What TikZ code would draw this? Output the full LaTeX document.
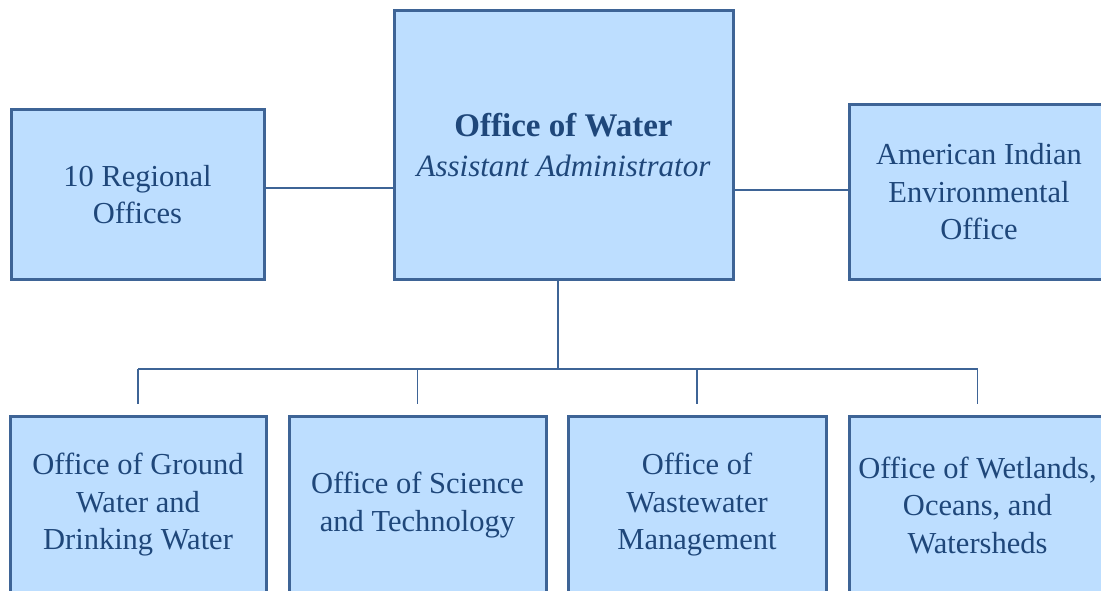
\documentclass[tikz,border=0pt]{standalone}
\usepackage{fontspec}
\setmainfont{Liberation Serif}
\definecolor{boxfill}{RGB}{189,222,255}
\definecolor{boxline}{RGB}{62,100,150}
\definecolor{ink}{RGB}{31,71,122}

\begin{document}
\begin{tikzpicture}[x=1pt, y=-1pt, thick,
  office/.style={draw=boxline, line width=3pt, fill=boxfill, text=ink,
    align=center, inner sep=0pt, font=\fontsize{30.5}{37.5}\selectfont},
  link/.style={draw=boxline, line width=1.7pt}]

\clip (0,0) rectangle (1101,591);

\node[office, minimum width=339pt, minimum height=268pt] (water) at (563.5,145)
  {{\fontsize{33}{42}\selectfont\textbf{Office of Water}}\\[3pt]
   {\fontsize{31}{42}\selectfont\textit{Assistant Administrator}}};
\node[office, minimum width=253pt, minimum height=169pt] (regional) at (137.5,194.5)
  {10 Regional\\Offices};
\node[office, minimum width=260pt, minimum height=174pt] (indian) at (979,192)
  {American Indian\\Environmental\\Office};

\node[office, minimum width=256pt, minimum height=178pt] (groundw) at (138,505)
  {Office of Ground\\Water and\\Drinking Water};
\node[office, minimum width=257pt, minimum height=178pt] (scitech) at (417.5,505)
  {Office of Science\\and Technology};
\node[office, minimum width=258pt, minimum height=178pt] (wastew) at (697,505)
  {Office of\\Wastewater\\Management};
\node[office, minimum width=257pt, minimum height=178pt] (wetlands) at (977.5,505)
  {Office of Wetlands,\\Oceans, and\\Watersheds};

\draw[link] (regional.east |- 0,188) -- (water.west |- 0,188);
\draw[link] (water.east |- 0,190) -- (indian.west |- 0,190);

\coordinate (bus) at (558,369);
\draw[link] (bus |- water.south) -- (bus);
\draw[link] (groundw.north |- bus) -- (wetlands.north |- bus);
\foreach \o in {groundw,scitech,wastew,wetlands}
  \draw[link] (\o.north |- bus) -- ([yshift=11pt]\o.north);

\end{tikzpicture}
\end{document}
